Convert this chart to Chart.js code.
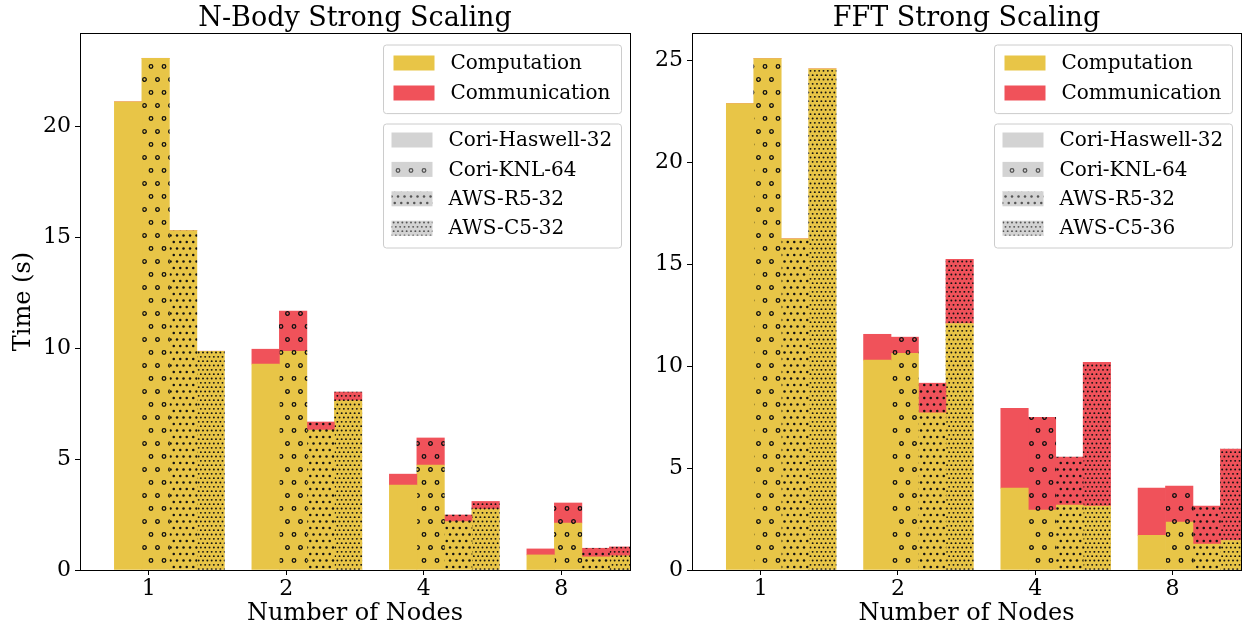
<!DOCTYPE html>
<html>
<head>
<meta charset="utf-8">
<script src="https://cdn.jsdelivr.net/npm/chart.js@4.4.1/dist/chart.umd.min.js"></script>
<style>
  body { margin: 0; background: #fff; width: 1244px; height: 630px; position: relative; overflow: hidden; }
  canvas { position: absolute; top: 0; }
  #nbody-chart { left: 0; }
  #fft-chart { left: 640px; }
</style>
</head>
<body>
<canvas id="nbody-chart" width="640" height="630"></canvas>
<canvas id="fft-chart" width="604" height="630"></canvas>
<script>
const nodeCounts = ["1", "2", "4", "8"];
const nbodyPlatforms = ["Cori-Haswell-32", "Cori-KNL-64", "AWS-R5-32", "AWS-C5-32"];
const fftPlatforms = ["Cori-Haswell-32", "Cori-KNL-64", "AWS-R5-32", "AWS-C5-36"];
const partLabels = ["Computation", "Communication"];
const nbodyYTicks = [0, 5, 10, 15, 20];
const fftYTicks = [0, 5, 10, 15, 20, 25];

// N-Body times in seconds, one value per node count
const nbodyHaswellComp = [21.1, 9.28, 3.83, 0.68];
const nbodyHaswellComm = [0, 0.67, 0.49, 0.27];
const nbodyKnlComp = [23.06, 9.86, 4.73, 2.12];
const nbodyKnlComm = [0, 1.81, 1.22, 0.9];
const nbodyR5Comp = [15.3, 6.31, 2.18, 0.59];
const nbodyR5Comm = [0, 0.36, 0.3, 0.39];
const nbodyC5Comp = [9.86, 7.63, 2.75, 0.64];
const nbodyC5Comm = [0, 0.39, 0.34, 0.4];

// FFT times in seconds
const fftHaswellComp = [22.9, 10.3, 4.02, 1.7];
const fftHaswellComm = [0, 1.27, 3.92, 2.32];
const fftKnlComp = [25.1, 10.64, 2.94, 2.35];
const fftKnlComm = [0, 0.79, 4.56, 1.77];
const fftR5Comp = [16.26, 7.72, 3.19, 1.27];
const fftR5Comm = [0, 1.45, 2.35, 1.87];
const fftC5Comp = [24.6, 12.1, 3.14, 1.45];
const fftC5Comm = [0, 3.15, 7.06, 4.48];

const compColor = "#E8C547";
const commColor = "#F0525A";
const legendGray = "#d3d3d3";
const serif = "'DejaVu Serif', 'Liberation Serif', serif";

// bar position inside a node group, in group units
const barOffsets = [-0.15, 0.05, 0.25, 0.45];
// hatches: none, rings, dots, dense dots
const hatches = [null, { step: 13, ring: true }, { step: 6.5, r: 1.25 }, { step: 13 / 3, r: 0.95 }];

Chart.defaults.font.family = serif;
Chart.defaults.color = "#000";

const makePattern = (base, hatch, ink) => {
  if (!hatch) return base;
  const c = document.createElement("canvas");
  c.width = 13;
  c.height = 26;
  const g = c.getContext("2d");
  g.fillStyle = base;
  g.fillRect(0, 0, 13, 26);
  const s = hatch.step;
  const rows = Math.round(26 / s);
  const cols = Math.round(13 / s);
  for (let row = -1; row <= rows + 1; row++) {
    const shift = Math.abs(row) % 2 ? s / 2 : 0;
    for (let col = -1; col <= cols + 1; col++) {
      const x = col * s + shift + 1.5;
      const y = row * s + 1.5;
      g.beginPath();
      if (hatch.ring) {
        g.arc(x, y, 1.8, 0, Math.PI * 2);
        g.lineWidth = 1.3;
        g.strokeStyle = ink;
        g.stroke();
      } else {
        g.arc(x, y, hatch.r, 0, Math.PI * 2);
        g.fillStyle = ink;
        g.fill();
      }
    }
  }
  return g.createPattern(c, "repeat");
};

const buildDatasets = (compSets, commSets) => {
  const datasets = [];
  compSets.forEach((comp, k) => {
    datasets.push({
      label: partLabels[0],
      data: comp.map((v, i) => ({ x: i + barOffsets[k], y: v })),
      backgroundColor: makePattern(compColor, hatches[k], "#111"),
      stack: "p" + k,
    });
    datasets.push({
      label: partLabels[1],
      data: commSets[k].map((v, i) => ({ x: i + barOffsets[k], y: v })),
      backgroundColor: makePattern(commColor, hatches[k], "#111"),
      stack: "p" + k,
    });
  });
  return datasets;
};

const roundBox = (ctx, x, y, w, h, r) => {
  ctx.beginPath();
  ctx.moveTo(x + r, y);
  ctx.lineTo(x + w - r, y);
  ctx.quadraticCurveTo(x + w, y, x + w, y + r);
  ctx.lineTo(x + w, y + h - r);
  ctx.quadraticCurveTo(x + w, y + h, x + w - r, y + h);
  ctx.lineTo(x + r, y + h);
  ctx.quadraticCurveTo(x, y + h, x, y + h - r);
  ctx.lineTo(x, y + r);
  ctx.quadraticCurveTo(x, y, x + r, y);
  ctx.closePath();
  ctx.fillStyle = "rgba(255,255,255,0.8)";
  ctx.fill();
  ctx.strokeStyle = "#cccccc";
  ctx.lineWidth = 1;
  ctx.stroke();
};

// frame, title and the two legend boxes
const decorations = (title, platforms) => ({
  id: "decorations",
  afterDatasetsDraw(chart) {
    const { ctx, chartArea: a } = chart;
    ctx.save();
    ctx.strokeStyle = "#000";
    ctx.lineWidth = 1;
    ctx.strokeRect(Math.round(a.left) + 0.5, Math.round(a.top) + 0.5,
      Math.round(a.right - a.left), Math.round(a.bottom - a.top));

    ctx.fillStyle = "#000";
    ctx.font = "27px " + serif;
    ctx.textAlign = "center";
    ctx.textBaseline = "alphabetic";
    ctx.fillText(title, (a.left + a.right) / 2, 26);

    const w = 238;
    const x0 = Math.round(a.right - 9 - w) + 0.5;
    const top1 = a.top + 12;
    ctx.font = "20px " + serif;
    ctx.textAlign = "left";
    ctx.textBaseline = "middle";
    roundBox(ctx, x0, top1, w, 68.6, 3);
    [compColor, commColor].forEach((col, i) => {
      const cy = top1 + 18 + i * 30;
      ctx.fillStyle = col;
      ctx.fillRect(x0 + 10, cy - 7.5, 41, 15);
      ctx.fillStyle = "#000";
      ctx.fillText(partLabels[i], x0 + 67, cy + 1);
    });

    const top2 = a.top + 91;
    roundBox(ctx, x0, top2, w, 124, 3);
    platforms.forEach((name, k) => {
      const cy = top2 + 16 + k * 29.4;
      ctx.fillStyle = makePattern(legendGray, hatches[k], "#555");
      ctx.fillRect(x0 + 8, cy - 7.5, 41, 15);
      ctx.fillStyle = "#000";
      ctx.fillText(name, x0 + 65, cy + 1);
    });
    ctx.restore();
  },
});

const makeChart = (id, title, platforms, compSets, commSets, yMax, yTicks, yWidth, rightPad, yTitle) => {
  new Chart(document.getElementById(id).getContext("2d"), {
    type: "bar",
    data: { datasets: buildDatasets(compSets, commSets) },
    options: {
      responsive: false,
      animation: false,
      devicePixelRatio: 1,
      layout: { padding: { top: 33, right: rightPad, left: 0, bottom: 0 } },
      datasets: { bar: { grouped: false, barPercentage: 1, categoryPercentage: 1, borderWidth: 0 } },
      plugins: { legend: { display: false }, tooltip: { enabled: false }, title: { display: false } },
      scales: {
        x: {
          type: "linear",
          offset: false,
          min: -0.5,
          max: 3.5,
          afterBuildTicks: (s) => { s.ticks = nodeCounts.map((_, i) => ({ value: i })); },
          afterFit: (s) => { s.height = 60; },
          ticks: { callback: (v, i) => nodeCounts[i], font: { size: 22 }, padding: 1, maxRotation: 0, autoSkip: false },
          grid: { offset: false, drawOnChartArea: false, tickLength: 5, color: "#000" },
          border: { display: false },
          title: { display: true, text: "Number of Nodes", font: { size: 24 }, padding: { top: 0, bottom: 2 } },
        },
        y: {
          stacked: true,
          min: 0,
          max: yMax,
          afterBuildTicks: (s) => { s.ticks = yTicks.map((v) => ({ value: v })); },
          afterFit: (s) => { s.width = yWidth; },
          ticks: { font: { size: 22 }, padding: 4 },
          grid: { drawOnChartArea: false, tickLength: 5, color: "#000" },
          border: { display: false },
          title: { display: !!yTitle, text: yTitle, font: { size: 24 }, padding: { top: 9, bottom: 0 } },
        },
      },
    },
    plugins: [decorations(title, platforms)],
  });
};

makeChart("nbody-chart", "N-Body Strong Scaling", nbodyPlatforms,
  [nbodyHaswellComp, nbodyKnlComp, nbodyR5Comp, nbodyC5Comp],
  [nbodyHaswellComm, nbodyKnlComm, nbodyR5Comm, nbodyC5Comm],
  24.2, nbodyYTicks, 80, 10, "Time (s)");

makeChart("fft-chart", "FFT Strong Scaling", fftPlatforms,
  [fftHaswellComp, fftKnlComp, fftR5Comp, fftC5Comp],
  [fftHaswellComm, fftKnlComm, fftR5Comm, fftC5Comm],
  26.36, fftYTicks, 52, 3, "");
</script>
</body>
</html>
